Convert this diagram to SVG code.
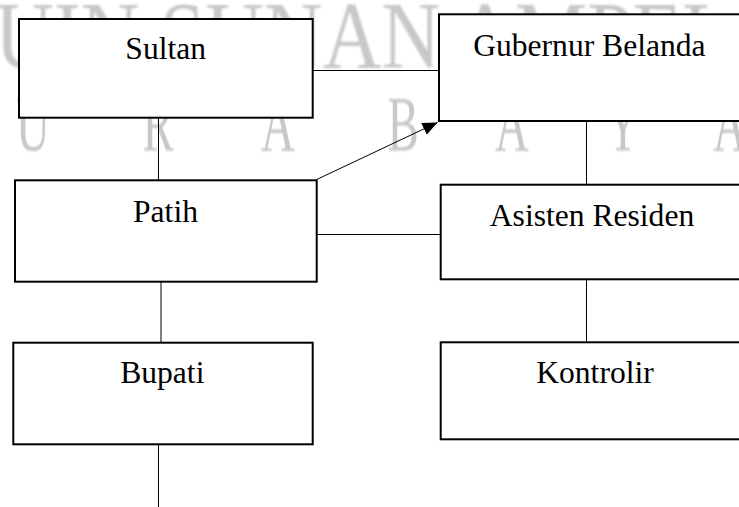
<svg xmlns="http://www.w3.org/2000/svg" width="739" height="507" viewBox="0 0 739 507">
  <style>
    .box { fill: #ffffff; stroke: #000000; stroke-width: 2; }
    .lbl { font-family: "Liberation Serif", "Times New Roman", serif; font-size: 31.6px; fill: #000000; text-anchor: middle; }
    .wm { font-family: "Liberation Serif", "Times New Roman", serif; fill: #c8c8c8; filter: url(#blur); }
    .conn { stroke: #000000; stroke-width: 1; fill: none; }
  </style>
  <defs>
    <filter id="blur" x="-10%" y="-10%" width="120%" height="120%">
      <feGaussianBlur stdDeviation="1.2"/>
    </filter>
    <marker id="arrow" markerUnits="userSpaceOnUse" markerWidth="16" markerHeight="14" refX="15" refY="6.5" orient="auto">
      <path d="M0,0 L15,6.5 L0,13 z" fill="#000000"/>
    </marker>
  </defs>
  <rect x="0" y="0" width="739" height="507" fill="#ffffff"/>

  <g id="watermark">
    <text class="wm" x="-5" y="68" font-size="95" textLength="737" lengthAdjust="spacingAndGlyphs">UIN SUNAN AMPEL</text>
    <g font-size="78" text-anchor="middle">
      <text class="wm" transform="translate(33,150) scale(0.6,1)">U</text>
      <text class="wm" transform="translate(158,150) scale(0.6,1)">R</text>
      <text class="wm" transform="translate(278,150) scale(0.6,1)">A</text>
      <text class="wm" transform="translate(403,150) scale(0.6,1)">B</text>
      <text class="wm" transform="translate(512,150) scale(0.6,1)">A</text>
      <text class="wm" transform="translate(623,150) scale(0.6,1)">Y</text>
      <text class="wm" transform="translate(730,150) scale(0.6,1)">A</text>
    </g>
  </g>

  <g id="connectors">
    <line class="conn" x1="312.7" y1="70.5" x2="439" y2="70.5"/>
    <line class="conn" x1="158.5" y1="117.7" x2="158.5" y2="180.3"/>
    <line class="conn" x1="586.5" y1="121" x2="586.5" y2="184.7"/>
    <line class="conn" x1="316.7" y1="234.5" x2="440.7" y2="234.5"/>
    <line class="conn" x1="161" y1="281.7" x2="161" y2="342.7"/>
    <line class="conn" x1="586.5" y1="279.3" x2="586.5" y2="342.3"/>
    <line class="conn" x1="158.5" y1="444.3" x2="158.5" y2="507"/>
    <line class="conn" x1="316.7" y1="179.5" x2="437.5" y2="122.5" stroke-width="1.3" marker-end="url(#arrow)"/>
  </g>

  <g id="sultan">
    <rect class="box" x="19" y="19" width="293.7" height="98.7"/>
    <text class="lbl" x="165.7" y="59">Sultan</text>
  </g>
  <g id="gubernur-belanda">
    <rect class="box" x="439" y="14.3" width="301" height="106.7"/>
    <text class="lbl" x="589.4" y="55.7">Gubernur Belanda</text>
  </g>
  <g id="patih">
    <rect class="box" x="15" y="180.3" width="301.7" height="101.4"/>
    <text class="lbl" x="165.5" y="222.3">Patih</text>
  </g>
  <g id="asisten-residen">
    <rect class="box" x="440.7" y="184.7" width="300" height="94.6"/>
    <text class="lbl" x="592" y="225.7">Asisten Residen</text>
  </g>
  <g id="bupati">
    <rect class="box" x="13.3" y="342.7" width="299.4" height="101.6"/>
    <text class="lbl" x="162.3" y="382.7">Bupati</text>
  </g>
  <g id="kontrolir">
    <rect class="box" x="440.7" y="342.3" width="300" height="97"/>
    <text class="lbl" x="595" y="383.3">Kontrolir</text>
  </g>
</svg>
